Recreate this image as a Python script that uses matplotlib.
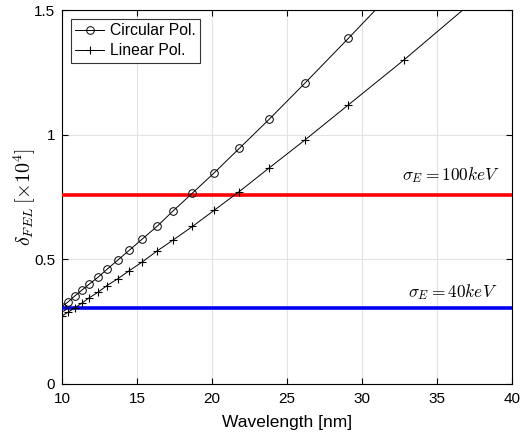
import matplotlib
matplotlib.use("Agg")
from matplotlib import pyplot as plt

plt.rcParams['font.family'] = ['Liberation Sans', 'DejaVu Sans']
plt.rcParams['mathtext.fontset'] = 'cm'

# wavelength points (nm) shared by both curves
wavelength = [10.0, 10.4, 10.85, 11.32, 11.8, 12.4, 13.0, 13.72, 14.5, 15.36,
              16.35, 17.42, 18.7, 20.13, 21.82, 23.8, 26.2, 29.1, 32.8, 37.5]
circular = [0.310, 0.329, 0.353, 0.376, 0.400, 0.428, 0.460, 0.497, 0.537, 0.582,
            0.633, 0.695, 0.766, 0.846, 0.945, 1.061, 1.207, 1.387, 1.620, 1.95]
linear = [0.273, 0.288, 0.305, 0.324, 0.345, 0.368, 0.395, 0.422, 0.455, 0.490,
          0.534, 0.578, 0.632, 0.696, 0.772, 0.866, 0.979, 1.120, 1.300, 1.540]
sigma_100 = 0.759
sigma_40 = 0.305

fig = plt.figure(figsize=(5.27, 4.37), dpi=100)
ax = fig.add_axes([0.1176, 0.1213, 0.8539, 0.8557])

ax.axhline(sigma_100, color='red', lw=2.6, zorder=3)
ax.axhline(sigma_40, color='#0000ee', lw=2.6, zorder=3)
ax.plot(wavelength, circular, '-o', color='black', lw=0.7, ms=5.5,
        mfc='none', mew=0.7, label='Circular Pol.', zorder=4)
ax.plot(wavelength, linear, '-+', color='black', lw=0.7, ms=5.5,
        mew=0.8, label='Linear Pol.', zorder=4)

ax.text(32.7, 0.84, r'$\sigma_E = 100keV$', fontsize=12.5, va='center', ha='left')
ax.text(33.05, 0.37, r'$\sigma_E = 40keV$', fontsize=12.5, va='center', ha='left')

ax.set_xlim(10, 40)
ax.set_ylim(0, 1.5)
ax.set_xticks([10, 15, 20, 25, 30, 35, 40])
ax.set_yticks([0, 0.5, 1, 1.5])
ax.set_yticklabels(['0', '0.5', '1', '1.5'])
ax.grid(True, color='#e3e3e3', lw=0.8)
ax.set_axisbelow(True)
ax.tick_params(direction='in', top=True, right=True, labelsize=11,
               length=4, width=0.8)
ax.tick_params(axis='x', pad=6)
ax.tick_params(axis='y', pad=5)
for s in ax.spines.values():
    s.set_linewidth(0.8)

ax.set_xlabel('Wavelength [nm]', fontsize=12.5, labelpad=6)
ax.set_ylabel(r'$\delta_{FEL}\,[\times 10^4]$', fontsize=14.5, labelpad=-3)

leg = ax.legend(loc='upper left', fontsize=11.3, frameon=True, fancybox=False,
                borderaxespad=0.55, handlelength=1.85, handletextpad=0.35,
                borderpad=0.3, labelspacing=0.3)
leg.get_frame().set_edgecolor('black')
leg.get_frame().set_linewidth(0.8)

fig.savefig('out.png', dpi=100)
